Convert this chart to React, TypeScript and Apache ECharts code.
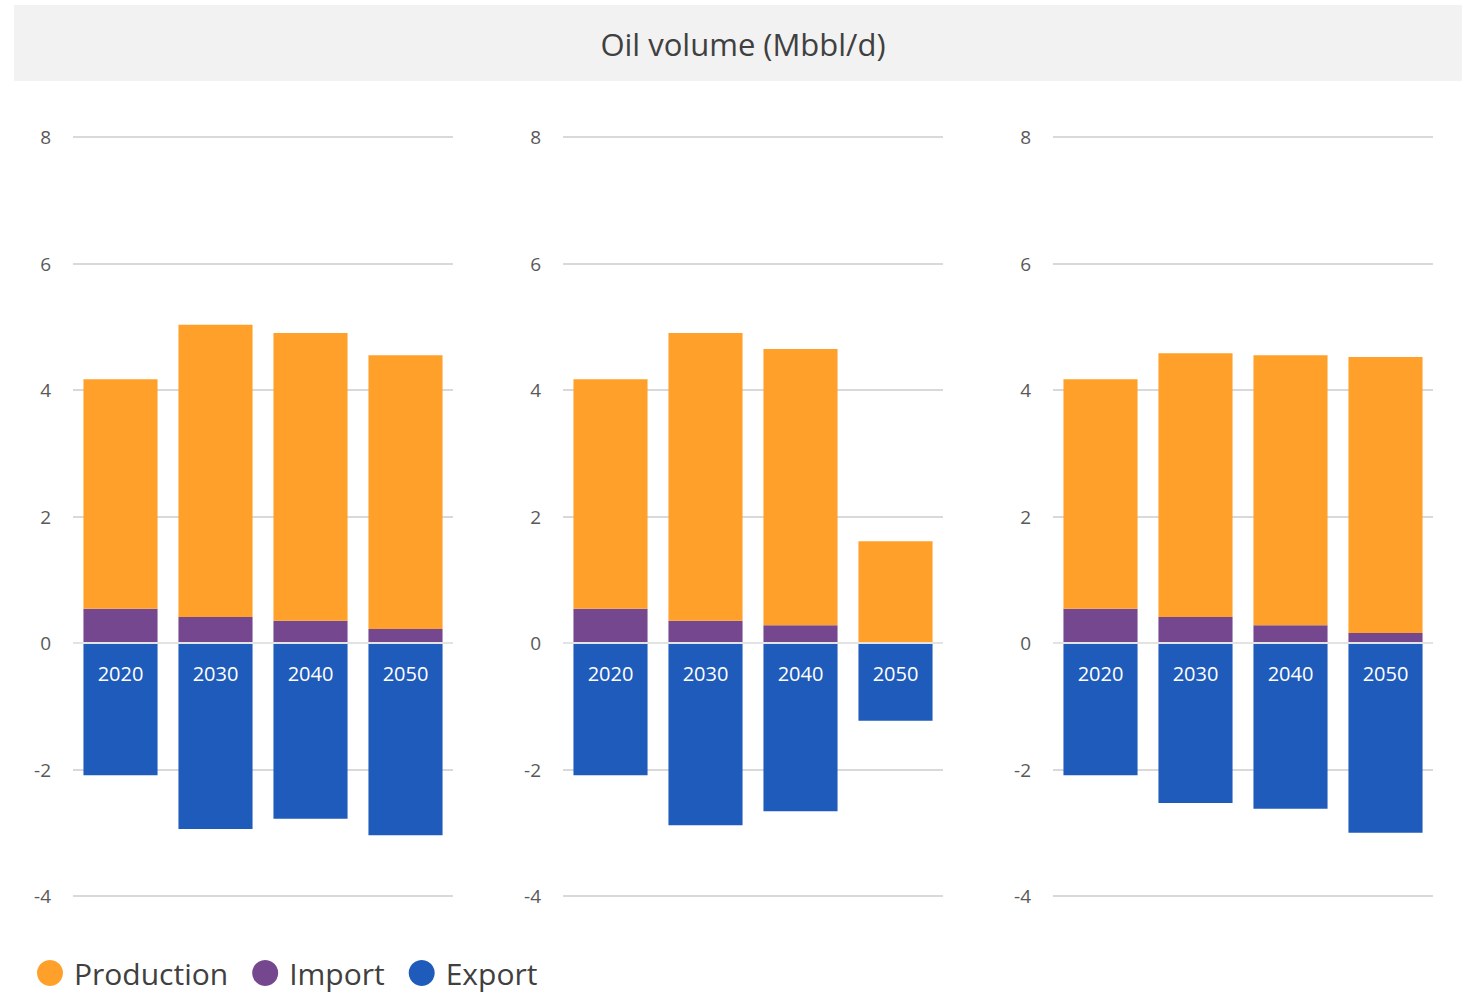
import React, { useEffect, useRef } from "react";
import * as echarts from "echarts";

const years = ["2020", "2030", "2040", "2050"];
const yTicks = { min: -4, max: 8, interval: 2 };

// three scenarios (panels)
const production1 = [3.63, 4.62, 4.55, 4.33];
const import1 = [0.54, 0.41, 0.35, 0.22];
const export1 = [-2.09, -2.94, -2.78, -3.04];

const production2 = [3.63, 4.55, 4.37, 1.61];
const import2 = [0.54, 0.35, 0.28, 0];
const export2 = [-2.09, -2.88, -2.66, -1.23];

const production3 = [3.63, 4.17, 4.27, 4.36];
const import3 = [0.54, 0.41, 0.28, 0.16];
const export3 = [-2.09, -2.53, -2.62, -3.0];

const panels = [
  { production: production1, imports: import1, exports: export1 },
  { production: production2, imports: import2, exports: export2 },
  { production: production3, imports: import3, exports: export3 },
];

const COLORS = { production: "#FFA02A", import: "#74478F", export: "#1F5BBA" };
const FONT = "'Open Sans', 'Noto Sans', sans-serif";

export default function App() {
  const ref = useRef<HTMLDivElement>(null);

  useEffect(() => {
    if (!ref.current) return;
    const chart = echarts.init(ref.current, undefined, { renderer: "svg" });

    const gridLefts = [73, 563, 1053];
    const grids = gridLefts.map((l) => ({ left: l, width: 380, top: 137, height: 759, containLabel: false }));
    const xAxes = gridLefts.map((_, i) => ({
      type: "category",
      gridIndex: i,
      data: years,
      axisLine: { show: false },
      axisTick: { show: false },
      axisLabel: { show: false },
    }));
    const yAxes = gridLefts.map((_, i) => ({
      type: "value",
      gridIndex: i,
      min: yTicks.min,
      max: yTicks.max,
      interval: yTicks.interval,
      axisLine: { show: false },
      axisTick: { show: false },
      axisLabel: { color: "#595959", fontSize: 19, fontFamily: FONT, margin: 22 },
      splitLine: { lineStyle: { color: "#D9D9D9", width: 2 } },
    }));

    const series: any[] = [];
    panels.forEach((p, i) => {
      series.push({
        name: "Import",
        type: "bar",
        xAxisIndex: i,
        yAxisIndex: i,
        stack: "s" + i,
        barWidth: "78%",
        data: p.imports,
        itemStyle: { color: COLORS.import },
      });
      series.push({
        name: "Production",
        type: "bar",
        xAxisIndex: i,
        yAxisIndex: i,
        stack: "s" + i,
        barWidth: "78%",
        data: p.production,
        itemStyle: { color: COLORS.production },
      });
      series.push({
        name: "Export",
        type: "bar",
        xAxisIndex: i,
        yAxisIndex: i,
        stack: "s" + i,
        barWidth: "78%",
        data: p.exports,
        itemStyle: { color: COLORS.export },
        label: {
          show: true,
          position: "insideTop",
          distance: 20,
          formatter: (prm: any) => prm.name,
          color: "#FFFFFF",
          fontSize: 20,
          fontFamily: FONT,
        },
        markLine: {
          silent: true,
          symbol: "none",
          z: 10,
          label: { show: false },
          lineStyle: { color: "#E3E3E3", width: 2, type: "solid" },
          data: [{ yAxis: 0 }],
        },
      });
    });

    chart.setOption({
      animation: false,
      backgroundColor: "#FFFFFF",
      graphic: [
        {
          type: "rect",
          left: 14,
          top: 5,
          shape: { width: 1448, height: 76 },
          style: { fill: "#F2F2F2" },
          z: -1,
        },
      ],
      title: {
        text: "Oil volume (Mbbl/d)",
        left: 738,
        top: 23,
        textAlign: "center",
        textStyle: { color: "#404040", fontSize: 31, fontWeight: "normal", fontFamily: FONT },
      },
      legend: {
        data: ["Production", "Import", "Export"],
        left: 37,
        top: 958,
        padding: 0,
        icon: "circle",
        itemWidth: 26,
        itemHeight: 26,
        itemGap: 24,
        textStyle: {
          color: "#404040",
          fontSize: 30,
          lineHeight: 30,
          fontFamily: FONT,
          padding: [0, 0, 0, 6],
        },
      },
      grid: grids,
      xAxis: xAxes,
      yAxis: yAxes,
      series,
    });

    return () => chart.dispose();
  }, []);

  return (
    <div
      ref={ref}
      style={{ position: "fixed", left: 0, top: 0, width: 1468, height: 998 }}
    />
  );
}
